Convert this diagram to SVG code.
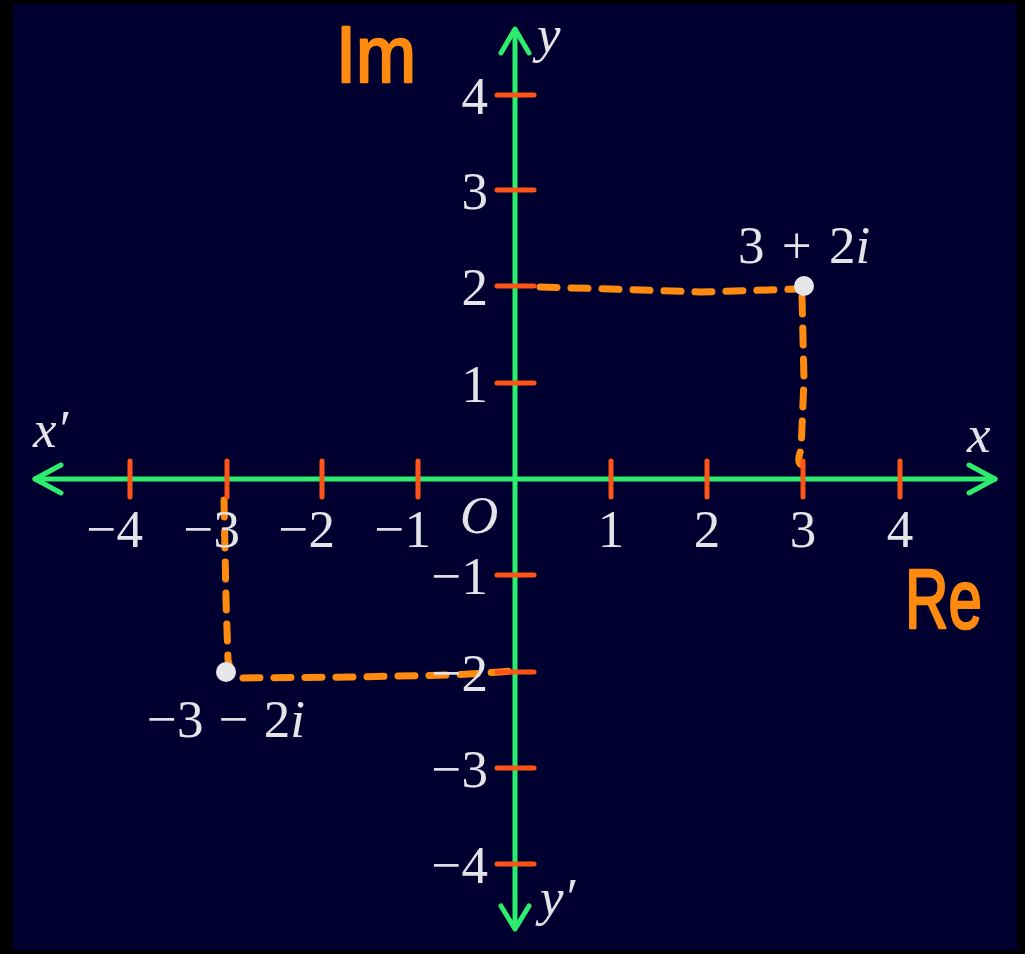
<svg xmlns="http://www.w3.org/2000/svg" width="1025" height="954" viewBox="0 0 1025 954">
  <style>
    .axis { stroke: #2ded6e; stroke-width: 5; fill: none; stroke-linecap: round; stroke-linejoin: round; }
    .tick { stroke: #ff5417; stroke-width: 5; stroke-linecap: round; }
    .num { font-family: "Liberation Serif", "Times New Roman", serif; font-size: 53px; fill: #e4e4e8; }
    .it { font-style: italic; }
    .dash { stroke: #ff8a10; stroke-width: 7; fill: none; stroke-linecap: round; stroke-dasharray: 17 14; }
    .hand { font-family: "Liberation Sans", "DejaVu Sans", sans-serif; fill: #ff8a10; stroke: #ff8a10; stroke-width: 2.5; stroke-linejoin: round; }
    .pt { fill: #e6e6ea; }
  </style>
  <rect x="0" y="0" width="1025" height="954" fill="#000000"/>
  <rect x="13" y="4" width="1004" height="946" fill="#000030"/>

  <g id="connectors">
    <path class="dash" d="M540 287 L610 289 L700 292 L800 289"/>
    <path class="dash" d="M802 297 L804 380 L801 450 Q797 460 800 464"/>
    <path class="dash" d="M224 500 L226 600 L228 660 Q230 672 238 678 L350 677 L450 675 Q490 673 510 671"/>
  </g>

  <g id="x-axis">
    <path class="axis" d="M35 479 L995 479"/>
    <path class="axis" d="M61 465 L35 479 L61 493"/>
    <path class="axis" d="M969 465 L995 479 L969 493"/>
    <text class="num it" x="33" y="447">x′</text>
    <text class="num it" x="967" y="452">x</text>
  </g>

  <g id="y-axis">
    <path class="axis" d="M515 30 L515 928"/>
    <path class="axis" d="M501 53 L515 29 L529 53"/>
    <path class="axis" d="M501 906 L515 929 L529 906"/>
    <text class="num it" x="537" y="52">y</text>
    <text class="num it" x="540" y="915">y′</text>
  </g>

  <g id="x-ticks">
    <line class="tick" x1="130" y1="461" x2="130" y2="497"/>
    <line class="tick" x1="227" y1="461" x2="227" y2="497"/>
    <line class="tick" x1="322" y1="461" x2="322" y2="497"/>
    <line class="tick" x1="418" y1="461" x2="418" y2="497"/>
    <line class="tick" x1="611" y1="461" x2="611" y2="497"/>
    <line class="tick" x1="707" y1="461" x2="707" y2="497"/>
    <line class="tick" x1="803" y1="461" x2="803" y2="497"/>
    <line class="tick" x1="900" y1="461" x2="900" y2="497"/>
    <text class="num" x="143" y="547" text-anchor="end">−4</text>
    <text class="num" x="240" y="547" text-anchor="end">−3</text>
    <text class="num" x="335" y="547" text-anchor="end">−2</text>
    <text class="num" x="431" y="547" text-anchor="end">−1</text>
    <text class="num" x="611" y="547" text-anchor="middle">1</text>
    <text class="num" x="707" y="547" text-anchor="middle">2</text>
    <text class="num" x="803" y="547" text-anchor="middle">3</text>
    <text class="num" x="900" y="547" text-anchor="middle">4</text>
    <text class="num it" x="460" y="533">O</text>
  </g>

  <g id="y-ticks">
    <line class="tick" x1="497" y1="95" x2="534" y2="95"/>
    <line class="tick" x1="497" y1="190" x2="534" y2="190"/>
    <line class="tick" x1="497" y1="286" x2="534" y2="286"/>
    <line class="tick" x1="497" y1="383" x2="534" y2="383"/>
    <line class="tick" x1="497" y1="575" x2="534" y2="575"/>
    <line class="tick" x1="497" y1="672" x2="534" y2="672"/>
    <line class="tick" x1="497" y1="768" x2="534" y2="768"/>
    <line class="tick" x1="497" y1="864" x2="534" y2="864"/>
    <text class="num" x="488" y="114" text-anchor="end">4</text>
    <text class="num" x="488" y="209" text-anchor="end">3</text>
    <text class="num" x="488" y="305" text-anchor="end">2</text>
    <text class="num" x="488" y="402" text-anchor="end">1</text>
    <text class="num" x="488" y="594" text-anchor="end">−1</text>
    <text class="num" x="488" y="691" text-anchor="end">−2</text>
    <text class="num" x="488" y="787" text-anchor="end">−3</text>
    <text class="num" x="488" y="883" text-anchor="end">−4</text>
  </g>

  <g id="point-a">
    <circle class="pt" cx="804" cy="286" r="10"/>
    <text class="num" x="738" y="263" word-spacing="4">3 + 2<tspan class="it">i</tspan></text>
  </g>

  <g id="point-b">
    <circle class="pt" cx="226" cy="672" r="10"/>
    <text class="num" x="147" y="737" word-spacing="2">−3 − 2<tspan class="it">i</tspan></text>
  </g>

  <g id="label-im">
    <text class="hand" x="336" y="82" font-size="80" textLength="80" lengthAdjust="spacingAndGlyphs">Im</text>
  </g>
  <g id="label-re">
    <text class="hand" x="905" y="628" font-size="84" textLength="77" lengthAdjust="spacingAndGlyphs">Re</text>
  </g>
</svg>
